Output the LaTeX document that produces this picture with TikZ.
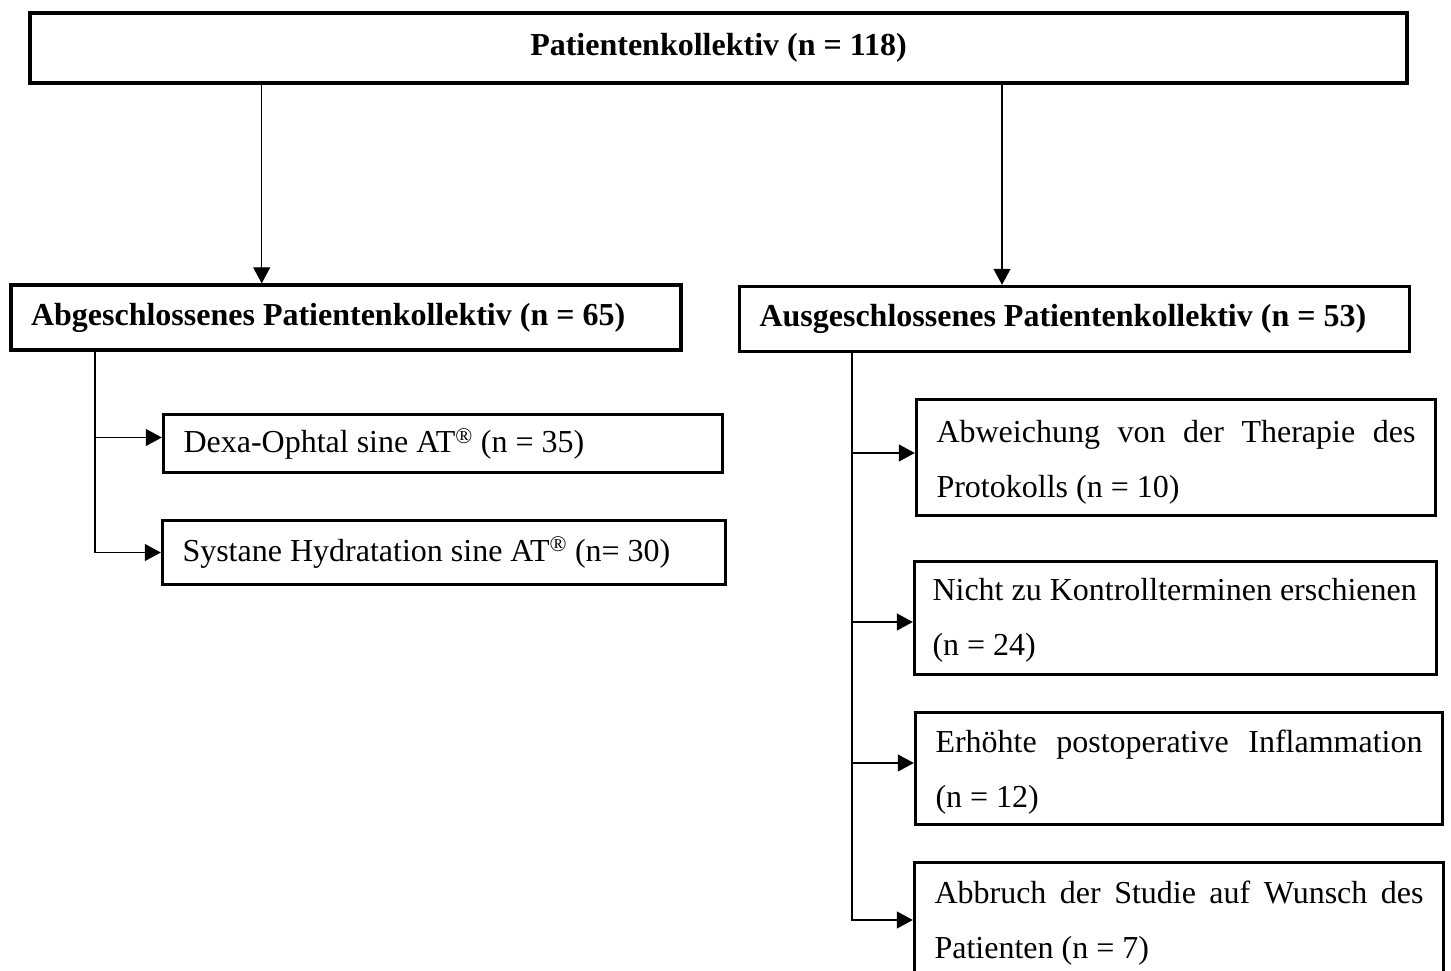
\documentclass[tikz,border=0pt]{standalone}
\usepackage{fontspec}
\setmainfont{Liberation Serif}
\usetikzlibrary{arrows.meta}
\newcommand\toppad[1]{\rule{0pt}{#1}}
\begin{document}
\hyphenpenalty=10000
\begin{tikzpicture}[x=1pt,y=-1pt,
  box/.style={draw, line width=3.4pt, inner xsep=20pt, inner ysep=0pt, font=\fontsize{32}{55}\selectfont},
  boldbox/.style={box, font=\bfseries\fontsize{32}{38}\selectfont},
  arr/.style={line width=1.2pt, -{Triangle[length=16pt,width=17pt]}}]
\clip (0,0) rectangle (1451,971);
\fill[white] (0,0) rectangle (1451,971);
% main boxes
\node[boldbox, line width=4pt, minimum width=1377pt, minimum height=70pt] (top) at (718.5,48) {Patientenkollektiv (n = 118)};
\node[boldbox, minimum width=670pt, minimum height=65pt, text width=630pt, align=flush left] (abg) at (346,317.5) {Abgeschlossenes Patientenkollektiv (n = 65)};
\node[boldbox, minimum width=670pt, minimum height=65pt, text width=630pt, align=flush left] (aus) at (1074.5,319) {Ausgeschlossenes Patientenkollektiv (n = 53)};
% left sub boxes
\node[box, minimum width=559pt, minimum height=58pt, text width=519pt, align=flush left] (dexa) at (443,443.5) {Dexa-Ophtal sine AT\textsuperscript{\textregistered} (n = 35)};
\node[box, minimum width=563pt, minimum height=64pt, text width=523pt, align=flush left] (sys) at (444,552.5) {Systane Hydratation sine AT\textsuperscript{\textregistered} (n= 30)};
% right sub boxes
\node[box, minimum width=519pt, minimum height=116pt, text width=479pt, align=justify] (abw) at (1176,457.5) {\toppad{31pt}Abweichung von der Therapie des\linebreak Protokolls (n = 10)};
\node[box, inner xsep=18pt, minimum width=522pt, minimum height=113pt, text width=486pt, align=flush left] (nicht) at (1175.5,618) {\toppad{26pt}Nicht zu Kontrollterminen erschienen\\(n = 24)};
\node[box, minimum width=527pt, minimum height=112pt, text width=487pt, align=justify] (erh) at (1179,768.5) {\toppad{29pt}Erhöhte postoperative Inflammation\linebreak (n = 12)};
\node[box, minimum width=529pt, minimum height=121pt, text width=489pt, align=justify] (abb) at (1179,923) {Abbruch der Studie auf Wunsch des\linebreak Patienten (n = 7)};
% connector columns
\coordinate (lx) at (261.7,0);
\coordinate (rx) at (1002,0);
\coordinate (lsx) at (95,0);
\coordinate (rsx) at (852,0);
% connectors
\draw[arr] (top.south -| lx) -- (abg.north -| lx);
\draw[arr] (top.south -| rx) -- (aus.north -| rx);
\draw[arr] (abg.south -| lsx) |- ([yshift=6pt]dexa.west);
\draw[arr] (abg.south -| lsx) |- (sys.west);
\draw[arr] (aus.south -| rsx) |- ([yshift=4.5pt]abw.west);
\draw[arr] (aus.south -| rsx) |- ([yshift=-4pt]nicht.west);
\draw[arr] (aus.south -| rsx) |- ([yshift=5.5pt]erh.west);
\draw[arr] (aus.south -| rsx) |- ([yshift=3pt]abb.west);
\end{tikzpicture}
\end{document}
